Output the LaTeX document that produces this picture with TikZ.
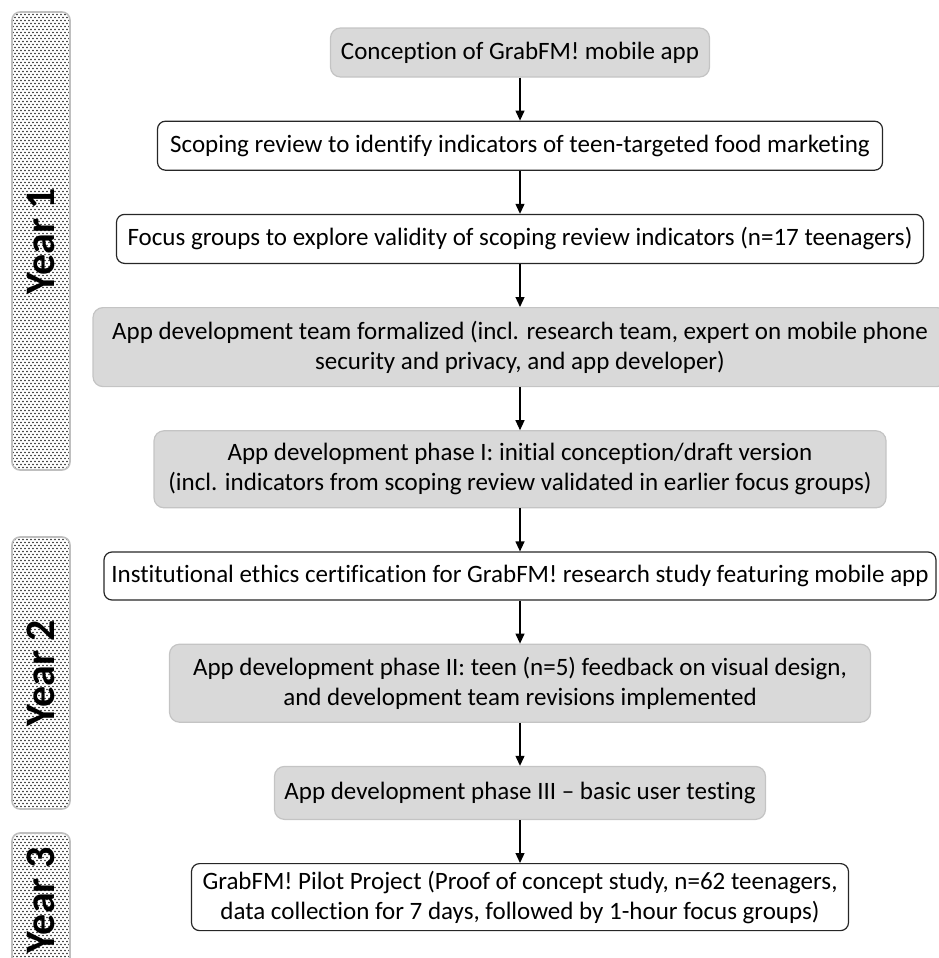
\documentclass[tikz,border=0pt]{standalone}
\usepackage{fontspec}
\setmainfont{Carlito}[Ligatures=NoCommon]
\usepackage{xcolor}
\usetikzlibrary{arrows.meta, positioning, patterns}

\definecolor{boxgray}{HTML}{D9D9D9}
\definecolor{boxedge}{HTML}{C4C4C4}

\pgfdeclarepatternformonly{yeardots}{\pgfqpoint{-0.1pt}{-0.1pt}}{\pgfqpoint{2.1pt}{3.1pt}}{\pgfqpoint{2pt}{3pt}}{%
  \pgfpathcircle{\pgfqpoint{0.5pt}{0.75pt}}{0.42pt}%
  \pgfpathcircle{\pgfqpoint{1.5pt}{2.25pt}}{0.42pt}%
  \pgfusepath{fill}}

\begin{document}
\begin{tikzpicture}[
  x=0.5pt, y=-0.5pt,
  box/.style={draw=black!85, line width=0.6pt, rounded corners=4pt, align=center, inner xsep=2pt, font=\fontsize{12.5}{15}\selectfont},
  gbox/.style={draw=boxedge, fill=boxgray, line width=0.6pt, rounded corners=5pt, align=center, inner xsep=2pt, font=\fontsize{12.5}{15}\selectfont},
  yearbar/.style={draw=black!25, line width=0.8pt, pattern=yeardots, pattern color=black!85, rounded corners=4pt, rotate=90, minimum height=29pt, font=\fontsize{21}{24}\selectfont\bfseries},
  >={Triangle[width=4.5pt, length=5pt]}, node distance=21.5pt
]
\useasboundingbox (0,0) rectangle (938,958);

% year bars
\node[yearbar, minimum width=229pt] (year1) at (41,241) {Year 1};
\node[yearbar, minimum width=136pt] (year2) at (41,673) {Year 2};
\node[yearbar, minimum width=67.5pt] (year3) at (41,900.5) {Year 3};

% steps
\node[gbox, minimum width=189.5pt, minimum height=24.5pt] (concept) at (520,52.5) {Conception of GrabFM! mobile app};
\node[box, minimum width=362.5pt, minimum height=24.5pt, below=of concept] (scoping) {Scoping review to identify indicators of teen-targeted food marketing};
\node[box, minimum width=403.5pt, minimum height=24.5pt, below=of scoping] (focus) {Focus groups to explore validity of scoping review indicators (n=17 teenagers)};
\node[gbox, minimum width=427pt, minimum height=39.5pt, below=of focus] (team) {App development team formalized (incl. research team, expert on mobile phone\\security and privacy, and app developer)};
\node[gbox, minimum width=366pt, minimum height=38.5pt, below=of team] (phase1) {App development phase I: initial conception/draft version\\(incl. indicators from scoping review validated in earlier focus groups)};
\node[box, minimum width=416pt, minimum height=24pt, below=of phase1] (ethics) {Institutional ethics certification for GrabFM! research study featuring mobile app};
\node[gbox, minimum width=350.5pt, minimum height=39pt, below=of ethics] (phase2) {App development phase II: teen (n=5) feedback on visual design,\\and development team revisions implemented};
\node[gbox, minimum width=245.5pt, minimum height=26.5pt, below=of phase2] (phase3) {App development phase III -- basic user testing};
\node[box, minimum width=328.5pt, minimum height=33.5pt, below=of phase3] (pilot) {GrabFM! Pilot Project (Proof of concept study, n=62 teenagers,\\data collection for 7 days, followed by 1-hour focus groups)};

\draw[->, line width=0.6pt] (concept) -- (scoping);
\draw[->, line width=0.6pt] (scoping) -- (focus);
\draw[->, line width=0.6pt] (focus) -- (team);
\draw[->, line width=0.6pt] (team) -- (phase1);
\draw[->, line width=0.6pt] (phase1) -- (ethics);
\draw[->, line width=0.6pt] (ethics) -- (phase2);
\draw[->, line width=0.6pt] (phase2) -- (phase3);
\draw[->, line width=0.6pt] (phase3) -- (pilot);
\end{tikzpicture}
\end{document}
